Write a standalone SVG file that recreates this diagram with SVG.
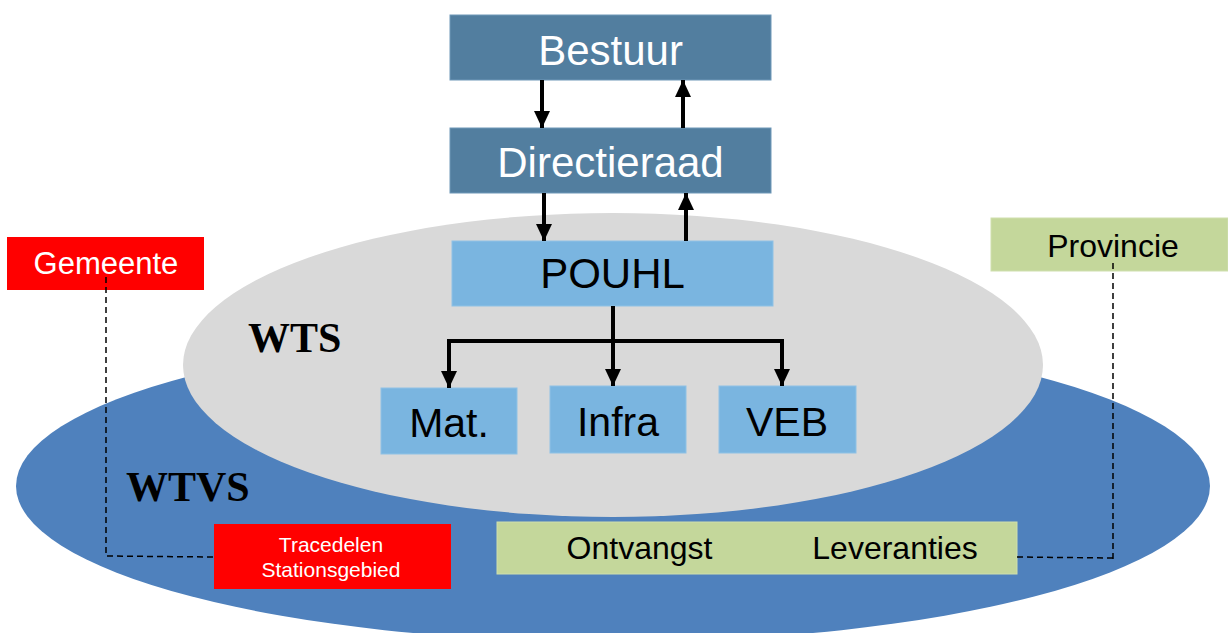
<svg xmlns="http://www.w3.org/2000/svg" width="1228" height="633" viewBox="0 0 1228 633">
<defs>
<marker id="ah" markerUnits="userSpaceOnUse" markerWidth="18" markerHeight="18" viewBox="0 0 18 18" refX="17" refY="9" orient="auto">
<path d="M0,1 L17,9 L0,17 Z" fill="#000"/>
</marker>
</defs>
<style>
.dark{fill:#527E9F;stroke:#6f98b8;stroke-width:1}
.light{fill:#7AB5E0;stroke:#8fc2e6;stroke-width:1}
.red{fill:#FF0000}
.green{fill:#C4D79B;stroke:#cfdfae;stroke-width:1}
.t{font-family:"Liberation Sans",Arial,sans-serif;text-anchor:middle}
.w{fill:#fff}
.b{fill:#000}
.serif{font-family:"Liberation Serif","Times New Roman",serif;font-weight:bold;fill:#000}
.arr{stroke:#000;stroke-width:4;fill:none;marker-end:url(#ah)}
.ln{stroke:#000;stroke-width:4;fill:none}
.dash{stroke:#000;stroke-width:1.5;fill:none;stroke-dasharray:6 4}
</style>
<g id="wtvs">
<ellipse cx="613" cy="486" rx="597" ry="156" fill="#4F81BD"/>
<text class="serif" x="126" y="501" font-size="42">WTVS</text>
</g>
<g id="wts">
<ellipse cx="613" cy="365" rx="430" ry="152" fill="#D9D9D9"/>
<text class="serif" x="248" y="352" font-size="42">WTS</text>
</g>
<g id="bestuur">
<rect class="dark" x="450" y="15" width="321" height="65"/>
<text class="t w" x="610.5" y="65" font-size="42">Bestuur</text>
</g>
<g id="directieraad">
<rect class="dark" x="450" y="128" width="321" height="65"/>
<text class="t w" x="610.5" y="177" font-size="42">Directieraad</text>
</g>
<g id="pouhl">
<rect class="light" x="452" y="241" width="321" height="65"/>
<text class="t b" x="612.5" y="288" font-size="42">POUHL</text>
</g>
<g id="mat">
<rect class="light" x="381" y="388" width="136" height="66"/>
<text class="t b" x="449" y="437" font-size="41">Mat.</text>
</g>
<g id="infra">
<rect class="light" x="550" y="386" width="136" height="67"/>
<text class="t b" x="618" y="436" font-size="41">Infra</text>
</g>
<g id="veb">
<rect class="light" x="719" y="386" width="137" height="67"/>
<text class="t b" x="787" y="436" font-size="41">VEB</text>
</g>
<g id="gemeente">
<rect class="red" x="7" y="237" width="197" height="53"/>
<text class="t w" x="106" y="274" font-size="31">Gemeente</text>
</g>
<g id="tracedelen">
<rect class="red" x="214" y="524" width="237" height="65"/>
<text class="t w" x="331" y="552" font-size="21">Tracedelen</text>
<text class="t w" x="331" y="577" font-size="21">Stationsgebied</text>
</g>
<g id="provincie">
<rect class="green" x="991" y="218" width="237" height="53"/>
<text class="t b" x="1113" y="257" font-size="32">Provincie</text>
</g>
<g id="ontvangst">
<rect class="green" x="497" y="522" width="520" height="52"/>
<text class="t b" x="639.5" y="559" font-size="32">Ontvangst</text>
<text class="t b" x="895" y="559" font-size="32">Leveranties</text>
</g>
<g id="connectors">
<line class="arr" x1="542" y1="80" x2="542" y2="128"/>
<line class="arr" x1="683" y1="128" x2="683" y2="80"/>
<line class="arr" x1="544" y1="193" x2="544" y2="241"/>
<line class="arr" x1="686" y1="241" x2="686" y2="193"/>
<line class="ln" x1="613" y1="306" x2="613" y2="341"/>
<line class="ln" x1="447" y1="341" x2="784" y2="341"/>
<line class="arr" x1="449" y1="341" x2="449" y2="388"/>
<line class="arr" x1="613" y1="341" x2="613" y2="386"/>
<line class="arr" x1="782" y1="341" x2="782" y2="386"/>
<path class="dash" d="M106,277 L106,556 L213,557"/>
<path class="dash" d="M1113,263 L1113,559 M1113,558 L1017,557"/>
</g>
</svg>
